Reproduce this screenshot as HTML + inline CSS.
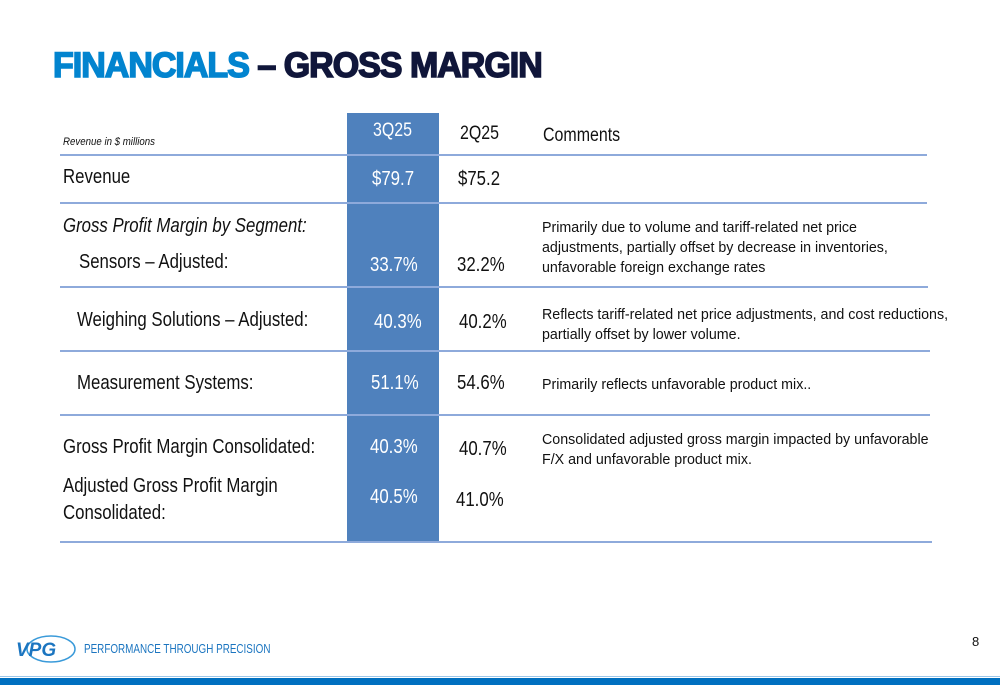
<!DOCTYPE html>
<html><head><meta charset="utf-8"><style>
body{margin:0;width:1000px;height:685px;position:relative;background:#fff;font-family:"Liberation Sans",sans-serif;overflow:hidden}
.t{position:absolute;white-space:nowrap;line-height:24px;transform-origin:left center;color:#111}
.n{font-size:20px;transform:scaleX(0.84)}
.w{color:#fff}
.c{font-size:15px;transform:scaleX(0.95);line-height:20px}
.h{position:absolute;left:60px;height:1.5px;background:#8eaadb}
</style></head><body>
<div class="t" style="left:53px;top:46px;line-height:40px;font-size:35px;font-weight:900;letter-spacing:-1px;transform:scaleX(0.97);-webkit-text-stroke:1.6px"><span style="color:#0284cf">FINANCIALS</span><span style="color:#10163a"> – GROSS MARGIN</span></div>
<div style="position:absolute;left:347px;top:113px;width:92px;height:430px;background:#4f81bd"></div>
<div class="h" style="top:154px;width:867px"></div>
<div class="h" style="top:202px;width:867px"></div>
<div class="h" style="top:286px;width:868px"></div>
<div class="h" style="top:350px;width:870px"></div>
<div class="h" style="top:414px;width:870px"></div>
<div class="h" style="top:541px;width:872px"></div>

<div class="t" style="left:63px;top:130px;font-size:11px;font-style:italic;transform:scaleX(0.88)">Revenue in $ millions</div>
<div class="t n w" style="left:373px;top:119px;font-size:19px">3Q25</div>
<div class="t n" style="left:460px;top:122px;font-size:19px">2Q25</div>
<div class="t n" style="left:543px;top:124px;font-size:19px">Comments</div>

<div class="t n" style="left:63px;top:165px">Revenue</div>
<div class="t n w" style="left:372px;top:167px">$79.7</div>
<div class="t n" style="left:458px;top:167px">$75.2</div>

<div class="t n" style="left:63px;top:214px;font-style:italic">Gross Profit Margin by Segment:</div>
<div class="t n" style="left:79px;top:250px">Sensors – Adjusted:</div>
<div class="t n w" style="left:370px;top:253px">33.7%</div>
<div class="t n" style="left:457px;top:253px">32.2%</div>
<div class="t c" style="left:542px;top:218px">Primarily due to volume and tariff-related net price<br>adjustments, partially offset by decrease in inventories,<br>unfavorable foreign exchange rates</div>

<div class="t n" style="left:77px;top:308px">Weighing Solutions – Adjusted:</div>
<div class="t n w" style="left:374px;top:310px">40.3%</div>
<div class="t n" style="left:459px;top:310px">40.2%</div>
<div class="t c" style="left:542px;top:305px">Reflects tariff-related net price adjustments, and cost reductions,<br>partially offset by lower volume.</div>

<div class="t n" style="left:77px;top:371px">Measurement Systems:</div>
<div class="t n w" style="left:371px;top:371px">51.1%</div>
<div class="t n" style="left:457px;top:371px">54.6%</div>
<div class="t c" style="left:542px;top:375px">Primarily reflects unfavorable product mix..</div>

<div class="t n" style="left:63px;top:435px">Gross Profit Margin Consolidated:</div>
<div class="t n w" style="left:370px;top:435px">40.3%</div>
<div class="t n" style="left:459px;top:437px">40.7%</div>
<div class="t c" style="left:542px;top:430px">Consolidated adjusted gross margin impacted by unfavorable<br>F/X and unfavorable product mix.</div>

<div class="t n" style="left:63px;top:473px;line-height:27px">Adjusted Gross Profit Margin<br>Consolidated:</div>
<div class="t n w" style="left:370px;top:485px">40.5%</div>
<div class="t n" style="left:456px;top:488px">41.0%</div>

<div style="position:absolute;left:13px;top:633px;width:64px;height:30px">
<svg width="64" height="30"><ellipse cx="38" cy="16" rx="24" ry="13" fill="none" stroke="#3a9ad9" stroke-width="1.5"/><text x="3" y="23" font-family="Liberation Sans" font-weight="bold" font-style="italic" font-size="19" fill="#1b75c0">VPG</text></svg></div>
<div class="t" style="left:84px;top:637px;font-size:13px;color:#1b75c0;transform:scaleX(0.76)">PERFORMANCE THROUGH PRECISION</div>
<div class="t" style="left:972px;top:630px;font-size:13px">8</div>
<div style="position:absolute;left:0;top:676px;width:1000px;height:1px;background:#9cc7ea"></div>
<div style="position:absolute;left:0;top:678px;width:1000px;height:7px;background:#0070c0"></div>
</body></html>
